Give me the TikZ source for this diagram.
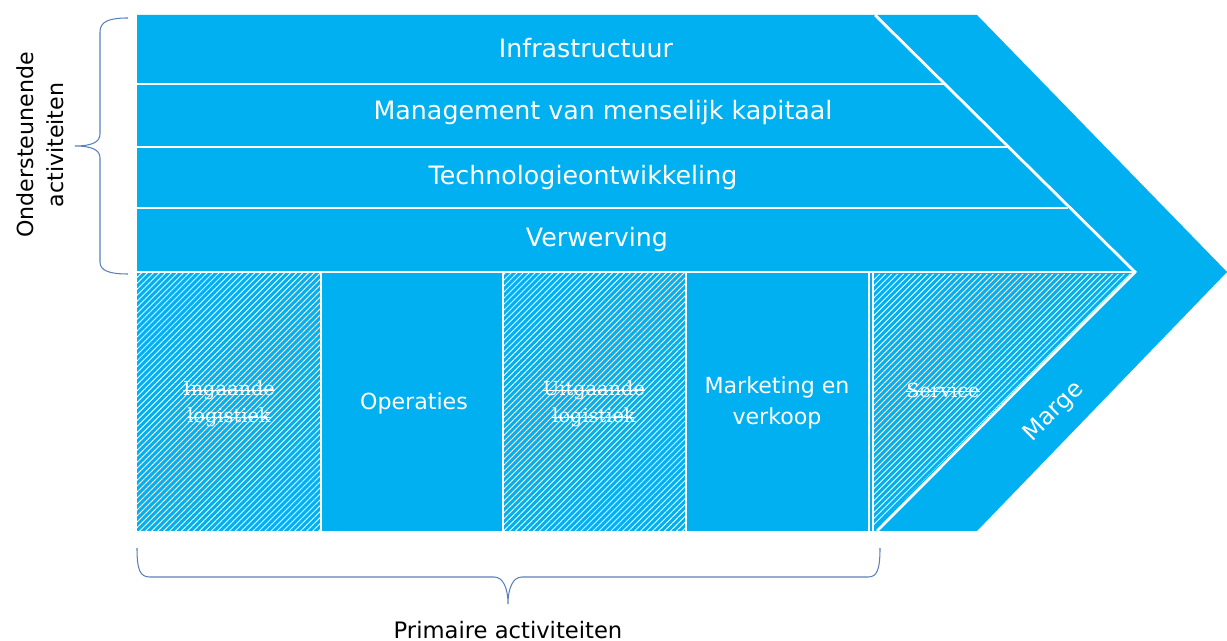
\documentclass[tikz,border=0pt]{standalone}
\usepackage{fontspec}
\setmainfont{DejaVu Sans}
\newfontfamily\strikefont{DejaVu Serif}
\usetikzlibrary{patterns.meta}
\definecolor{chainblue}{RGB}{0,176,240}
\definecolor{bracegray}{RGB}{91,128,186}
\newlength\crosswd
\newcommand\crossout[1]{\settowidth\crosswd{#1}\rlap{\rule[0.27em]{\crosswd}{0.5pt}}#1}

\begin{document}
\begin{tikzpicture}[x=0.02cm,y=-0.02cm,
    rowlabel/.style={text=white,font=\fontsize{14.4}{17}\selectfont},
    cell/.style={text=white,align=center,font=\fontsize{12.6}{18}\selectfont},
    crossed/.style={text=white,align=center,font=\strikefont\fontsize{11}{15.3}\selectfont},
    side/.style={align=center,font=\fontsize{12.6}{17}\selectfont},
    hatch/.style={pattern={Lines[angle=45,distance=2.4pt,line width=0.5pt]},pattern color=white},
    sep/.style={white,line width=0.8pt},
    curly/.style={draw=bracegray,line width=0.6pt}]
  \useasboundingbox (0,0) rectangle (1227,641);
  % chevron
  \coordinate (nw) at (137,15);
  \coordinate (ne) at (977,15);
  \coordinate (tip) at (1227,272);
  \coordinate (se) at (977,531);
  \coordinate (sw) at (137,531);
  \fill[chainblue] (nw) -- (ne) -- (tip) -- (se) -- (sw) -- cycle;
  % crossed-out primary activities
  \fill[hatch] (137,273) rectangle (321,531);
  \fill[hatch] (503,273) rectangle (686,531);
  \fill[hatch] (873,274) -- (1133,274) -- (873,530) -- cycle;
  % separators
  \draw[sep] (137,84) -- (944,84);
  \draw[sep] (137,147) -- (1007,147);
  \draw[sep] (137,208) -- (1068,208);
  \draw[sep] (137,272) -- (1135,272);
  \foreach \x in {321,503,686,869,873}
    \draw[sep] (\x,272) -- (\x,531);
  \coordinate (vt) at (875,15);
  \coordinate (vm) at (1135,272);
  \coordinate (vb) at (877,531);
  \draw[sep,line width=1.6pt] (vt) -- (vm) -- (vb);
  % support activities
  \node[rowlabel] (infra) at (586,48) {Infrastructuur};
  \node[rowlabel] (hrm) at (603,113) {Management van menselijk kapitaal};
  \node[rowlabel] (tech) at (583,178) {Technologieontwikkeling};
  \node[rowlabel] (procure) at (597,240) {Verwerving};
  % primary activities
  \node[crossed] (inbound) at (229,404) {\crossout{Ingaande}\\\crossout{logistiek}};
  \node[cell] (ops) at (414,403) {Operaties};
  \node[crossed] (outbound) at (594,404) {\crossout{Uitgaande}\\\crossout{logistiek}};
  \node[cell] (sales) at (777,403) {Marketing en\\verkoop};
  \node[crossed] (service) at (943,390) {\crossout{Service}};
  \node[cell,rotate=45,font=\fontsize{13.4}{16}\selectfont] (margin) at (1054,412) {Marge};
  % braces
  \node[side,rotate=90] (support) at (40,145) {Ondersteunende\\activiteiten};
  \draw[curly] (128,18) .. controls (110,18) and (100,21) .. (100,32) -- (100,134)
    .. controls (100,142) and (92,146) .. (75,146)
    .. controls (92,146) and (100,150) .. (100,158) -- (100,262)
    .. controls (100,271) and (110,274) .. (128,274);
  \node[side,font=\fontsize{12.9}{16}\selectfont] (primary) at (508,630) {Primaire activiteiten};
  \draw[curly] (137,548) .. controls (137,570) and (140,577) .. (150,577) -- (494,577)
    .. controls (503,577) and (508,588) .. (508,604)
    .. controls (508,588) and (513,577) .. (522,577) -- (868,577)
    .. controls (877,577) and (880,570) .. (880,548);
\end{tikzpicture}
\end{document}
